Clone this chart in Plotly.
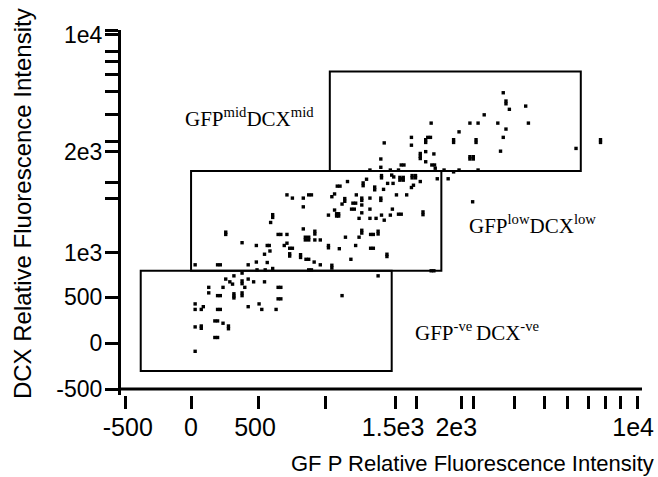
import plotly.graph_objects as go

# ---- data (axis display units) ----
gfp_values = [
    255, 255, 375, 480, 560, 575, 640, 660, 705, 840, 865, 840, 865, 910, 910, 910, 950,
    1010, 1010, 705, 685, 725, 745, 580, 540, 725, 725, 805, 805, 845, 865, 905, 950,
    1035, 1035, 480, 560, 420, 195, 215, 30, 485, 545, 600, 865, 885, 375, 315, 255,
    420, 460, 375, 375, 285, 305, 540, 395, 235, 130, 130, 195, 215, 315, 315, 315,
    375, 375, 640, 660, 640, 660, 30, 30, 75, 90, 195, 215, 420, 500, 520, 625, 175,
    195, 235, 275, 275, 30, 75, 75, 175, 195, 30, 1110,
    1395, 1395, 1545, 1565, 1685, 1685, 1685, 1725, 1785, 1725, 1770, 1790, 1315,
    1860, 1930, 1890, 1810, 1535, 1560, 1535, 1560, 1550, 1625, 1650, 1625, 1650,
    1685, 1475, 1490, 1445, 1485, 1400, 1400, 1290, 1265, 1265, 1350, 1350, 1415,
    1635, 1620, 1585, 1510, 1075, 1095, 1150, 1215, 1190, 1210, 1255, 1255, 1255,
    1315, 1395, 1395, 1130, 1130, 1110, 1035, 1055, 705, 745, 825, 865, 885, 825,
    1180, 1200, 1255, 1315, 1055, 1070, 1085, 1070, 1085, 1010, 1235, 1315, 1360,
    1400, 1420, 1465, 1480, 1525, 1545, 1705, 1705, 600, 600, 585, 825, 1135, 1235,
    1255, 1255, 1320, 1340, 1375, 1375, 1090, 1210, 1320, 1340, 1440, 1440, 1175,
    1375, 1765, 1785, 2070,
    2295, 2315, 2315, 2340, 2460, 2155, 2480, 2315, 2255, 2050, 2110, 1765, 1970,
    2295, 2275, 2095, 2095, 1930, 1930, 1740, 1760, 1725, 1725, 1620, 1620, 1420,
    1795, 2050, 2075, 2050, 2075, 1525, 1970, 2110, 2830, 3010, 3010, 1465,
]
dcx_values = [
    1205, 1180, 1090, 1060, 1060, 1060, 1180, 1180, 1180, 1150, 1150, 1120, 1120, 1215,
    1185, 1120, 1120, 1060, 1035, 1085, 1060, 1030, 1030, 1000, 965, 970, 945, 960,
    930, 910, 910, 880, 850, 845, 815, 880, 875, 850, 850, 850, 850, 795, 795, 810,
    795, 795, 760, 730, 695, 695, 665, 675, 645, 665, 640, 665, 605, 605, 605, 545,
    515, 515, 535, 510, 490, 545, 515, 605, 605, 480, 480, 425, 365, 365, 395, 365,
    365, 395, 425, 365, 365, 240, 240, 215, 185, 155, 175, 185, 160, 60, 60, -90, 515,
    2000, 1910, 1935, 1935, 2060, 2030, 2005, 2080, 2055, 1970, 1935, 1935, 1880,
    1880, 1860, 1785, 1785, 1800, 1800, 1770, 1770, 1785, 1820, 1820, 1795, 1795,
    1755, 1825, 1805, 1735, 1735, 1820, 1795, 1780, 1740, 1710, 1695, 1665, 1670,
    1715, 1690, 1610, 1610, 1705, 1705, 1755, 1610, 1520, 1520, 1575, 1550, 1500,
    1575, 1575, 1550, 1570, 1540, 1510, 1590, 1620, 1610, 1575, 1575, 1610, 1610,
    1480, 1455, 1455, 1415, 1455, 1445, 1405, 1405, 1380, 1380, 1390, 1355, 1355,
    1355, 1390, 1335, 1390, 1455, 1400, 1400, 1425, 1395, 1395, 1365, 1310, 1240,
    1150, 1150, 1225, 1195, 1180, 1180, 1215, 1185, 1025, 1060, 1030, 1030, 965, 940,
    910, 730, 785, 785, 1535,
    2720, 2630, 2600, 2540, 2575, 2480, 2390, 2325, 2390, 2390, 2390, 2390, 2295,
    2235, 2085, 2210, 2180, 2210, 2180, 2235, 2235, 2210, 2180, 2235, 2150, 2175,
    1900, 2025, 2025, 2000, 2000, 1880, 1880, 1880, 2115, 2210, 2180, 1880,
]

# gates
gate_names = ["GFP<sup>mid</sup>DCX<sup>mid</sup>",
              "GFP<sup>low</sup>DCX<sup>low</sup>",
              "GFP<sup>-ve </sup>DCX<sup>-ve</sup>"]
gate_gfp_low = [1020, 0, -370]
gate_gfp_high = [2865, 1840, 1475]
gate_dcx_low = [1870, 785, -305]
gate_dcx_high = [2950, 1870, 785]
gate_label_gfp = [-60, 2030, 1632]
gate_label_dcx = [2450, 1290, 130]

# axis ticks
x_tick_vals = [-485, 0, 495, 985, 1500, 1660, 1990, 2075, 2380, 2595, 2765, 2925, 3050, 3155, 3280]
x_label_vals = [-465, 0, 470, 1485, 1950, 3250]
x_label_text = ["-500", "0", "500", "1.5e3", "2e3", "1e4"]
y_tick_vals = [-500, 0, 500, 980, 1575, 1750, 2080, 2190, 2480, 2730, 2915, 3060, 3165, 3350, 3398]
y_tick_text = ["-500", "0", "500", "1e3", "", "", "2e3", "", "", "", "", "", "", "1e4", ""]

X_RANGE = [-515, 3315]
Y_RANGE = [-565, 3402]
SANS = "Arial, Liberation Sans, sans-serif"
SERIF = "Times New Roman, Liberation Serif, serif"

fig = go.Figure()
fig.add_trace(go.Scatter(
    x=gfp_values, y=dcx_values, mode="markers",
    marker=dict(symbol="square", size=3.4, color="black", line=dict(width=0)),
    showlegend=False, hoverinfo="skip"))
fig.add_trace(go.Scatter(x=[None], y=[None], xaxis="x2", mode="markers",
                         showlegend=False, hoverinfo="skip"))

for i in range(len(gate_names)):
    fig.add_shape(type="rect", xref="x", yref="y",
                  x0=gate_gfp_low[i], x1=gate_gfp_high[i],
                  y0=gate_dcx_low[i], y1=gate_dcx_high[i],
                  line=dict(color="black", width=2), fillcolor="rgba(0,0,0,0)")
    fig.add_annotation(x=gate_label_gfp[i], y=gate_label_dcx[i], xref="x", yref="y",
                       text=gate_names[i], showarrow=False, xanchor="left", yanchor="middle",
                       font=dict(family=SERIF, size=21, color="black"))

# x axis line (detached ticks below it)
fig.add_shape(type="line", xref="paper", yref="y", x0=0, x1=1, y0=-500, y1=-500,
              line=dict(color="black", width=3))

fig.add_annotation(text="GF P Relative Fluorescence Intensity", xref="paper", yref="paper",
                   x=0.675, y=-0.189, showarrow=False, xanchor="center", yanchor="middle",
                   font=dict(family=SANS, size=22, color="black"))
fig.add_annotation(text="DCX Relative Fluorescence Intensity", xref="paper", yref="paper",
                   x=-0.19, y=0.523, showarrow=False, xanchor="center", yanchor="middle",
                   textangle=-90, font=dict(family=SANS, size=24, color="black"))

fig.update_layout(
    width=658, height=477, autosize=False,
    margin=dict(l=121, r=16, t=30, b=82, pad=0, autoexpand=False),
    paper_bgcolor="white", plot_bgcolor="white",
    xaxis=dict(range=X_RANGE, tickmode="array", tickvals=x_tick_vals, showticklabels=False,
               ticks="outside", ticklen=13, tickwidth=3, tickcolor="black", automargin=False,
               showline=False, showgrid=False, zeroline=False, fixedrange=True),
    xaxis2=dict(range=X_RANGE, overlaying="x", side="bottom", anchor="y", automargin=False,
                tickmode="array", tickvals=x_label_vals, ticktext=x_label_text,
                ticks="outside", ticklen=10, tickcolor="rgba(0,0,0,0)",
                tickfont=dict(family=SANS, size=25, color="black"),
                showline=False, showgrid=False, zeroline=False, fixedrange=True),
    yaxis=dict(range=Y_RANGE, tickmode="array", tickvals=y_tick_vals, ticktext=y_tick_text,
               ticks="outside", ticklen=13, tickwidth=2.5, tickcolor="black", automargin=False,
               tickfont=dict(family=SANS, size=23, color="black"), ticklabelstandoff=-2,
               showline=True, linewidth=3, linecolor="black",
               showgrid=False, zeroline=False, fixedrange=True),
)

fig.write_html("out.html", config={"displayModeBar": False},
               post_script="document.body.style.margin='0';document.body.style.padding='0';")
